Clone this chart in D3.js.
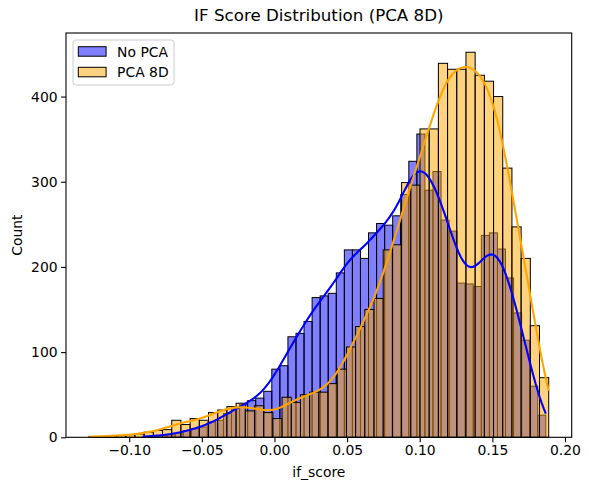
<!DOCTYPE html>
<html>
<head>
<meta charset="utf-8">
<script src="https://cdn.jsdelivr.net/npm/d3@7"></script>
<style>
  body { margin: 0; background: #fff; }
  svg { display: block; font-family: "DejaVu Sans", sans-serif; }
</style>
</head>
<body>
<svg class="chart"></svg>
<script>
//figure size
const width = 589;
const height = 490;
const margin = {top: 33, right: 17.3, bottom: 52.7, left: 66};

//series: 50 bins each, between min and max score
const seriesNames = ["No PCA", "PCA 8D"];
const noPcaRange = [-0.0906, 0.1868];
const noPcaCounts = [1, 2, 2, 3, 5, 8, 10, 12, 18, 20,
                     28, 34, 39, 43, 46, 54, 80, 84, 118, 122,
                     136, 164, 166, 169, 193, 220, 220, 210, 240, 251,
                     249, 260, 285, 324, 356, 290, 312, 255, 242, 181,
                     180, 177, 237, 240, 221, 187, 146, 114, 60, 26];
const pcaRange = [-0.1277, 0.1888];
const pcaCounts = [1, 1, 2, 2, 3, 4, 6, 8, 9, 20,
                   15, 22, 20, 29, 32, 36, 40, 31, 37, 29,
                   22, 47, 41, 50, 53, 53, 63, 80, 106, 130,
                   150, 163, 220, 226, 299, 296, 362, 362, 439, 432,
                   432, 452, 425, 418, 400, 316, 247, 210, 131, 70];

const xTicks = [-0.10, -0.05, 0.00, 0.05, 0.10, 0.15, 0.20];
const yTicks = [0, 100, 200, 300, 400];

const colors = ["blue", "orange"];

// bins -> [{x0, x1, count}]
function makeBins(range, counts){
    const w = (range[1] - range[0]) / counts.length;
    return counts.map((c, i) => ({x0: range[0] + i*w, x1: range[0] + (i+1)*w, count: c}));
}

// gaussian kde (scott bandwidth) on the binned counts, scaled to counts like seaborn
function kdeLine(range, counts){
    const w = (range[1] - range[0]) / counts.length;
    const centers = counts.map((c, i) => range[0] + (i + 0.5)*w);
    const n = d3.sum(counts);
    const mean = d3.sum(counts, (c, i) => c*centers[i]) / n;
    const variance = d3.sum(counts, (c, i) => c*(centers[i]-mean)**2) / (n - 1);
    const bw = Math.sqrt(variance) * Math.pow(n, -1/5);
    const grid = d3.range(200).map(i => range[0] + i*(range[1]-range[0])/199);
    return grid.map(x => [x, d3.sum(counts, (c, i) => {
        const z = (x - centers[i]) / bw;
        return c * Math.exp(-0.5*z*z) / Math.sqrt(2*Math.PI);
    }) / bw * w]);
}

const series = [
    {name: seriesNames[0], bins: makeBins(noPcaRange, noPcaCounts), kde: kdeLine(noPcaRange, noPcaCounts), color: colors[0]},
    {name: seriesNames[1], bins: makeBins(pcaRange, pcaCounts), kde: kdeLine(pcaRange, pcaCounts), color: colors[1]}
];

const svg = d3.select(".chart").attr("width", width).attr("height", height);

//x domain = data extent + 5% like matplotlib
const lo = Math.min(noPcaRange[0], pcaRange[0]);
const hi = Math.max(noPcaRange[1], pcaRange[1]);
const pad = (hi - lo) * 0.05;
const x = d3.scaleLinear().domain([lo - pad, hi + pad]).range([margin.left, width - margin.right]);
const yMax = d3.max([...noPcaCounts, ...pcaCounts]) * 1.05;
const y = d3.scaleLinear().domain([0, yMax]).range([height - margin.bottom, margin.top]);

//bars, blue first then orange on top
series.forEach(s => {
    svg.append("g")
        .selectAll("rect")
        .data(s.bins)
        .enter().append("rect")
        .attr("x", d => x(d.x0))
        .attr("y", d => y(d.count))
        .attr("width", d => x(d.x1) - x(d.x0))
        .attr("height", d => y(0) - y(d.count))
        .attr("fill", s.color)
        .attr("fill-opacity", 0.5)
        .attr("stroke", "#000")
        .attr("stroke-width", 1);
});

//kde lines above all bars
const line = d3.line().x(d => x(d[0])).y(d => y(d[1])).curve(d3.curveLinear);
series.forEach(s => {
    svg.append("path")
        .attr("d", line(s.kde))
        .attr("fill", "none")
        .attr("stroke", s.color)
        .attr("stroke-width", 2.1);
});

//axes
const fmt = d => d3.format(".2f")(d).replace("-", "\u2212");
const xAxis = svg.append("g")
    .attr("transform", `translate(0,${height - margin.bottom})`)
    .call(d3.axisBottom(x).tickValues(xTicks).tickFormat(fmt).tickSizeOuter(0).tickSize(4.9).tickPadding(3.2));
const yAxis = svg.append("g")
    .attr("transform", `translate(${margin.left},0)`)
    .call(d3.axisLeft(y).tickValues(yTicks).tickSizeOuter(0).tickSize(4.9).tickPadding(3.5));

[xAxis, yAxis].forEach(a => {
    a.selectAll("text").attr("font-family", "DejaVu Sans").attr("font-size", 13.9).attr("fill", "#000");
    a.selectAll("line").attr("stroke", "#000").attr("stroke-width", 1.1);
    a.select(".domain").remove();
});

//frame
svg.append("rect")
    .attr("x", margin.left).attr("y", margin.top)
    .attr("width", width - margin.left - margin.right)
    .attr("height", height - margin.top - margin.bottom)
    .attr("fill", "none").attr("stroke", "#000").attr("stroke-width", 1.1);

//labels
svg.append("text")
    .attr("x", (margin.left + width - margin.right)/2).attr("y", 21)
    .attr("text-anchor", "middle").attr("font-size", 16.7)
    .text("IF Score Distribution (PCA 8D)");
svg.append("text")
    .attr("x", (margin.left + width - margin.right)/2).attr("y", 477)
    .attr("text-anchor", "middle").attr("font-size", 13.9)
    .text("if_score");
svg.append("text")
    .attr("transform", `translate(21.5,${(margin.top + height - margin.bottom)/2}) rotate(-90)`)
    .attr("text-anchor", "middle").attr("font-size", 13.9)
    .text("Count");

//legend
const legend = svg.append("g").attr("transform", "translate(73,40)");
legend.append("rect")
    .attr("width", 101).attr("height", 45).attr("rx", 2.8)
    .attr("fill", "#fff").attr("fill-opacity", 0.8)
    .attr("stroke", "#ccc").attr("stroke-width", 1);
const items = legend.selectAll(".item").data(series).enter().append("g")
    .attr("transform", (d, i) => `translate(5.3,${6.7 + i*20.6})`);
items.append("rect")
    .attr("width", 27.8).attr("height", 9.5)
    .attr("fill", d => d.color).attr("fill-opacity", 0.5)
    .attr("stroke", "#000").attr("stroke-width", 1);
items.append("text")
    .attr("x", 38.8).attr("y", 9.9)
    .attr("font-size", 13.9)
    .text(d => d.name);
</script>
</body>
</html>
